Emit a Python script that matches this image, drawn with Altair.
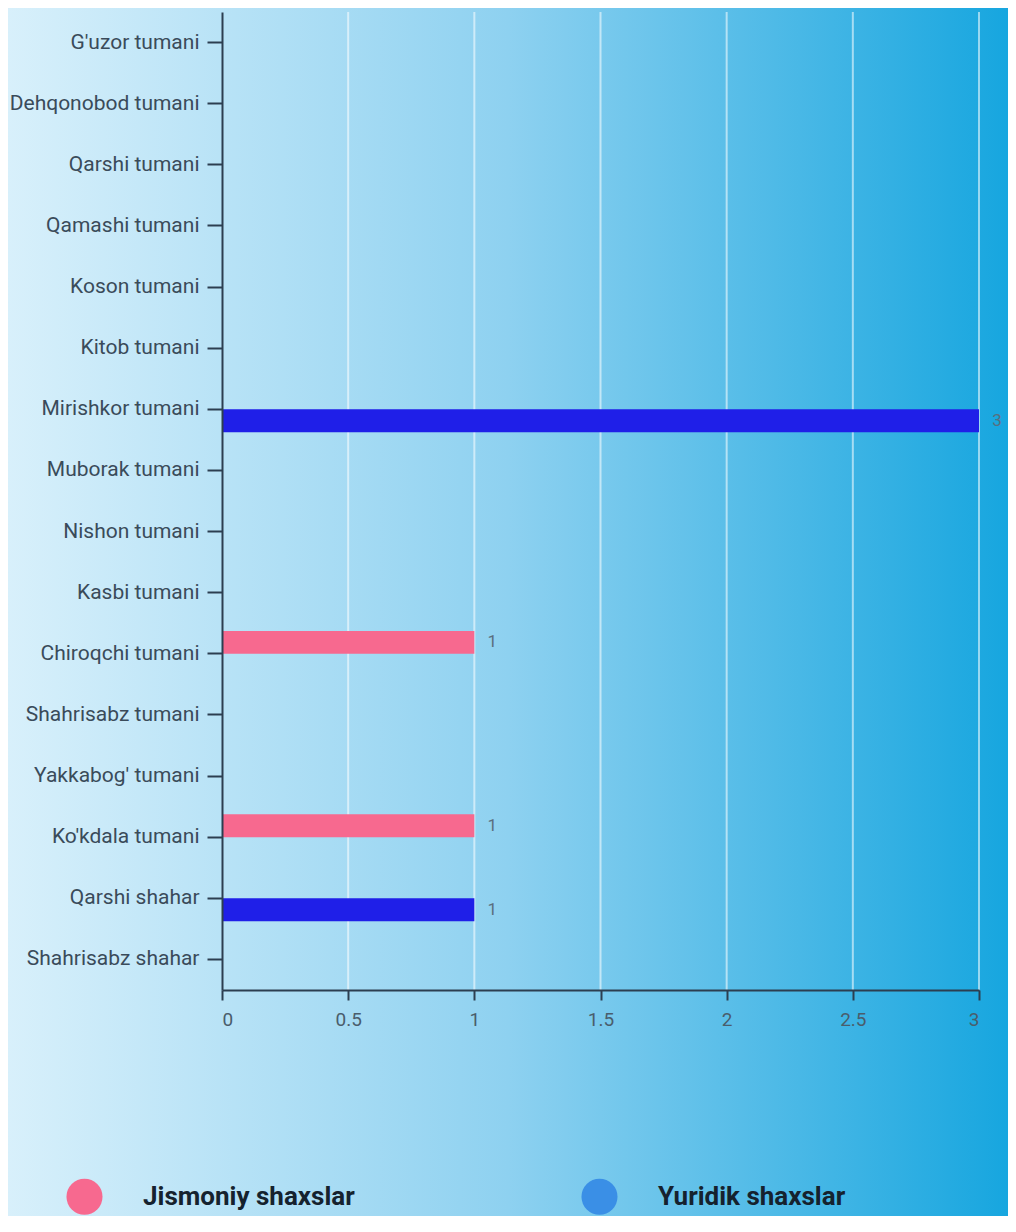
import altair as alt
import pandas as pd

categories = [
    "G'uzor tumani", "Dehqonobod tumani", "Qarshi tumani", "Qamashi tumani",
    "Koson tumani", "Kitob tumani", "Mirishkor tumani", "Muborak tumani",
    "Nishon tumani", "Kasbi tumani", "Chiroqchi tumani", "Shahrisabz tumani",
    "Yakkabog' tumani", "Ko'kdala tumani", "Qarshi shahar", "Shahrisabz shahar",
]
series_names = ["Jismoniy shaxslar", "Yuridik shaxslar"]
jismoniy = [0, 0, 0, 0, 0, 0, 0, 0, 0, 0, 1, 0, 0, 1, 0, 0]
yuridik = [0, 0, 0, 0, 0, 0, 3, 0, 0, 0, 0, 0, 0, 0, 1, 0]
x_ticks = [0, 0.5, 1, 1.5, 2, 2.5, 3]
bar_colors = ["#f7698f", "#1f1fe8"]
legend_colors = ["#f7698f", "#3a8fe6"]

rows = []
for i, c in enumerate(categories):
    rows.append({"category": c, "series": series_names[0], "value": jismoniy[i]})
    rows.append({"category": c, "series": series_names[1], "value": yuridik[i]})
df = pd.DataFrame(rows)

W, H = 757, 978
PAD = {"left": 214, "top": 4, "right": 29, "bottom": 226}
FONT = "Roboto"

bg = alt.Chart(alt.Data(values=[{}])).mark_rect(
    fill={
        "gradient": "linear", "x1": 0, "x2": 1, "y1": 0, "y2": 0,
        "stops": [
            {"offset": 0, "color": "#d8f0fb"},
            {"offset": 0.5, "color": "#8ed1f0"},
            {"offset": 1, "color": "#17a6df"},
        ],
    }
).encode(
    x=alt.value(-PAD["left"]), x2=alt.value(W + PAD["right"]),
    y=alt.value(-PAD["top"]), y2=alt.value(H + PAD["bottom"]),
)

xscale = alt.Scale(domain=[0, 3], nice=False)
x_axis = alt.Axis(values=x_ticks, format="~g", zindex=1, grid=False, labelFont=FONT,
                  labelFontSize=19, labelColor="#4a5d6c", tickSize=10,
                  tickColor="#2c3e50", tickWidth=2, domainColor="#2c3e50",
                  domainWidth=2, labelPadding=10)

grid = alt.Chart(pd.DataFrame({"value": x_ticks[1:]})).mark_rule(
    color="white", opacity=0.55, strokeWidth=2
).encode(x=alt.X("value:Q", scale=xscale, title=None, axis=x_axis))

yscale = alt.Scale(domain=categories, paddingInner=0.25, paddingOuter=0.125)
yoff_scale = alt.Scale(domain=series_names, paddingInner=0.0)
y_axis = alt.Axis(zindex=1, labelFont=FONT, labelFontSize=21, labelColor="#3a4b5a",
                  tickSize=15, tickColor="#2c3e50", tickWidth=2,
                  domainColor="#2c3e50", domainWidth=2, labelPadding=8,
                  labelLimit=300)

bars = alt.Chart(df).mark_bar().encode(
    y=alt.Y("category:N", sort=categories, scale=yscale, title=None, axis=y_axis),
    yOffset=alt.YOffset("series:N", sort=series_names, scale=yoff_scale),
    x=alt.X("value:Q", scale=xscale, title=None, axis=x_axis),
    color=alt.Color("series:N", sort=series_names,
                    scale=alt.Scale(range=bar_colors), legend=None),
)

labels = alt.Chart(df).transform_filter("datum.value > 0").mark_text(
    align="center", baseline="middle", dx=18, font=FONT, fontSize=17, color="#5a6e7e"
).encode(
    y=alt.Y("category:N", sort=categories, scale=yscale, title=None),
    yOffset=alt.YOffset("series:N", sort=series_names, scale=yoff_scale),
    x=alt.X("value:Q", scale=xscale, title=None),
    text=alt.Text("value:Q"),
)

legend_layer = alt.Chart(df).mark_point(
    shape="circle", filled=True, opacity=0
).encode(
    y=alt.Y("category:N", sort=categories, scale=yscale, title=None),
    x=alt.X("value:Q", scale=xscale, title=None),
    fill=alt.Fill(
        "series:N", sort=series_names,
        scale=alt.Scale(domain=series_names, range=legend_colors),
        legend=alt.Legend(
            title=None, orient="none", legendX=-156, legendY=1166, direction="horizontal",
            symbolType="circle", symbolSize=1300, symbolStrokeWidth=0, symbolOpacity=1,
            labelFont=FONT, labelFontSize=26, labelFontWeight="bold", labelColor="#15222e",
            labelOffset=40, columnPadding=226, labelLimit=400, zindex=2,
        ),
    ),
)

chart = alt.layer(bg, grid, bars, labels, legend_layer).properties(
    width=W, height=H, padding=PAD,
    autosize=alt.AutoSizeParams(type="none"),
).configure_view(stroke=None)

chart.save("out.html", embed_options={"renderer": "svg", "actions": False})
